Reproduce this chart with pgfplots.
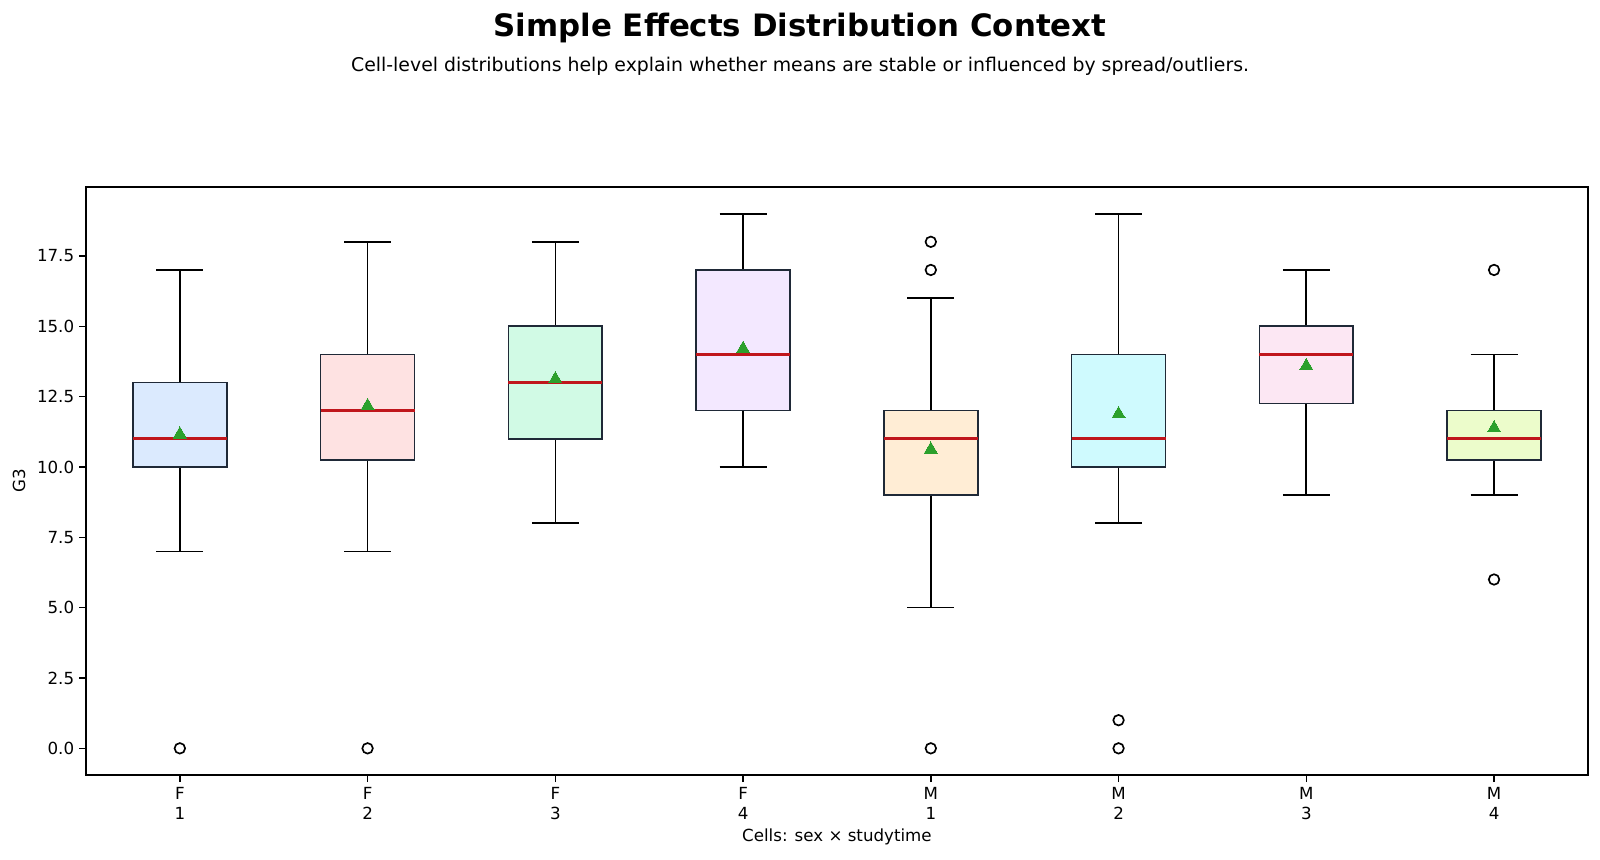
\documentclass[border=0pt]{standalone}
\usepackage{pgfplots}
\pgfplotsset{compat=1.18}
\usepgfplotslibrary{statistics}
\usepackage{fontspec}
\setmainfont{DejaVu Sans}
\definecolor{c1}{HTML}{DBEAFE}
\definecolor{c2}{HTML}{FEE2E2}
\definecolor{c3}{HTML}{D1FAE5}
\definecolor{c4}{HTML}{F3E8FF}
\definecolor{c5}{HTML}{FFEDD5}
\definecolor{c6}{HTML}{CFFAFE}
\definecolor{c7}{HTML}{FCE7F3}
\definecolor{c8}{HTML}{ECFCCB}
\definecolor{edgec}{HTML}{1F2937}
\definecolor{medc}{HTML}{C0161C}
\definecolor{meanc}{HTML}{2CA02C}
\begin{document}
\begin{tikzpicture}
\useasboundingbox (-61.9pt,-60.5pt) rectangle (1090pt,558pt);
\begin{axis}[
  scale only axis, width=1081.4pt, height=423.4pt,
  at={(0pt,0pt)}, anchor=south west,
  xmin=0.5, xmax=8.5, ymin=-0.95, ymax=19.95,
  xtick={1,2,3,4,5,6,7,8},
  xticklabels={{F\\1},{F\\2},{F\\3},{F\\4},{M\\1},{M\\2},{M\\3},{M\\4}},
  xticklabel style={align=center, font=\fontsize{12}{14.6}\selectfont},
  ytick={0,2.5,5,7.5,10,12.5,15,17.5},
  yticklabel style={/pgf/number format/fixed, /pgf/number format/fixed zerofill, /pgf/number format/precision=1, font=\fontsize{12}{14.6}\selectfont},
  /pgf/number format/assume math mode=true,
  tick align=outside, tick pos=left,
  major tick length=5pt,
  every tick/.style={black, line width=1pt},
  axis line style={line width=1pt},
  xlabel={Cells: sex × studytime},
  ylabel={G3},
  label style={font=\fontsize{12}{14}\selectfont},
  xlabel style={yshift=0pt},
  ylabel style={yshift=1.5pt},
  boxplot/draw direction=y,
  boxplot/box extend=0.5,
  boxplot/whisker extend=0.25,
  boxplot/every box/.style={draw=edgec, line width=1.2pt},
  boxplot/every whisker/.style={draw=black, line width=1.2pt},
  boxplot/every median/.style={draw=medc, line width=2.4pt},
]
\addplot[boxplot prepared={draw position=1, lower whisker=7, lower quartile=10, median=11, upper quartile=13, upper whisker=17}, fill=c1, draw=edgec] coordinates {};
\addplot[boxplot prepared={draw position=2, lower whisker=7, lower quartile=10.25, median=12, upper quartile=14, upper whisker=18}, fill=c2, draw=edgec] coordinates {};
\addplot[boxplot prepared={draw position=3, lower whisker=8, lower quartile=11, median=13, upper quartile=15, upper whisker=18}, fill=c3, draw=edgec] coordinates {};
\addplot[boxplot prepared={draw position=4, lower whisker=10, lower quartile=12, median=14, upper quartile=17, upper whisker=19}, fill=c4, draw=edgec] coordinates {};
\addplot[boxplot prepared={draw position=5, lower whisker=5, lower quartile=9, median=11, upper quartile=12, upper whisker=16}, fill=c5, draw=edgec] coordinates {};
\addplot[boxplot prepared={draw position=6, lower whisker=8, lower quartile=10, median=11, upper quartile=14, upper whisker=19}, fill=c6, draw=edgec] coordinates {};
\addplot[boxplot prepared={draw position=7, lower whisker=9, lower quartile=12.25, median=14, upper quartile=15, upper whisker=17}, fill=c7, draw=edgec] coordinates {};
\addplot[boxplot prepared={draw position=8, lower whisker=9, lower quartile=10.25, median=11, upper quartile=12, upper whisker=14}, fill=c8, draw=edgec] coordinates {};
% outliers
\addplot[only marks, mark=o, mark size=3.8pt, mark options={draw=black, line width=1.2pt}] coordinates {
(1,0) (2,0) (5,0) (5,17) (5,18) (6,0) (6,1) (8,6) (8,17)};
% means
\addplot[only marks, mark=triangle*, mark size=5.4pt, mark options={fill=meanc, draw=meanc, line width=0pt}] coordinates {
(1,11.16) (2,12.17) (3,13.12) (4,14.20) (5,10.62) (6,11.88) (7,13.59) (8,11.38)};
\end{axis}
\node[font=\fontsize{22.2}{26}\selectfont\bfseries] at (514.1pt,538.2pt) {Simple Effects Distribution Context};
\node[font=\fontsize{13.6}{16}\selectfont] at (514.1pt,510.4pt) {Cell-level distributions help explain whether means are stable or influenced by spread/outliers.};
\end{tikzpicture}
\end{document}
